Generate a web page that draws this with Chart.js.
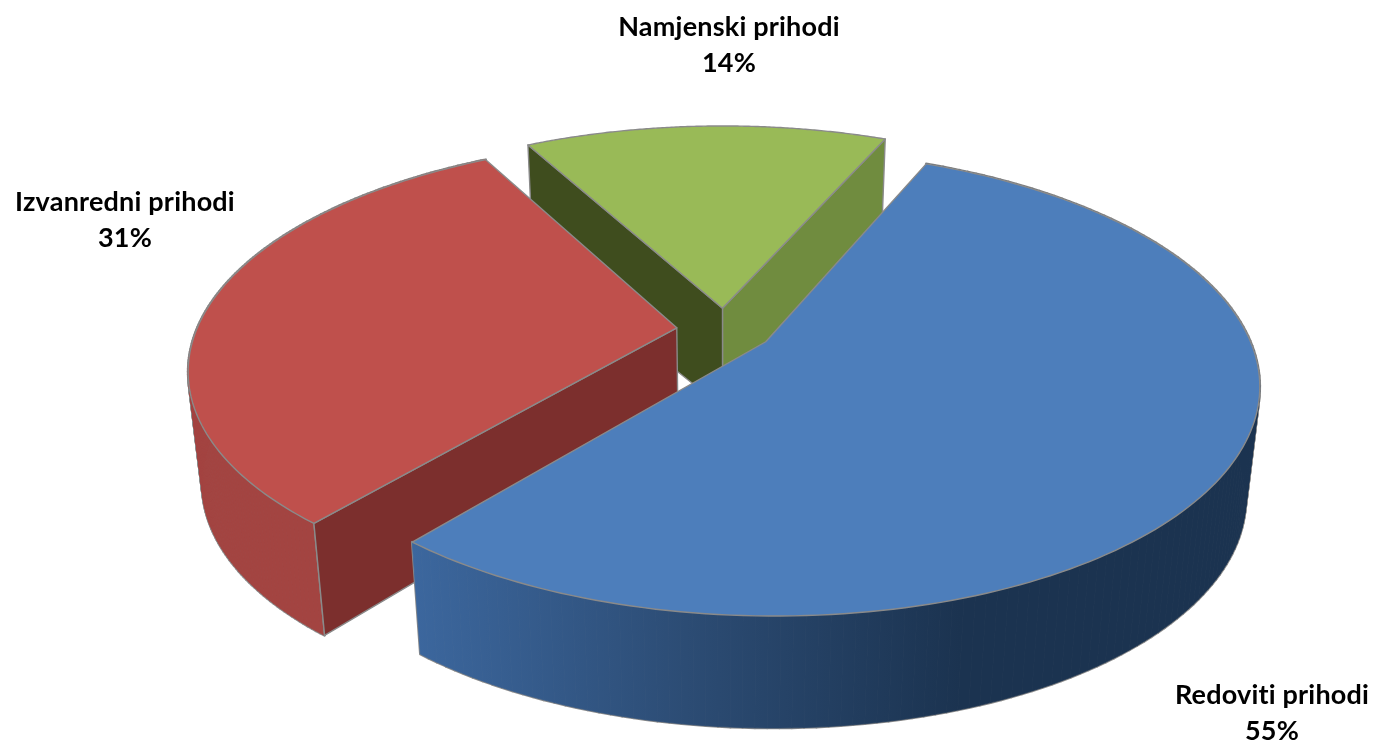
<!DOCTYPE html>
<html><head><meta charset="utf-8">
<style>html,body{margin:0;padding:0;background:#fff}canvas{display:block}</style>
<script src="https://cdn.jsdelivr.net/npm/chart.js@4/dist/chart.umd.min.js"></script>
</head><body>
<canvas id="c" width="1378" height="745"></canvas>
<script>
const categories = ['Redoviti prihodi', 'Izvanredni prihodi', 'Namjenski prihodi'];
const shares = [54.5, 31, 14.4];
const topColors = ['#4d7ebb', '#bf504c', '#99ba57'];

const TILT = {sx: 1.46, sy: 0.673, k: 0.176, explode: 0.1, shift: 0.026, depthIn: 99, depthRim: 13};
const LABEL_POS = [[1272, 695], [125, 202], [729, 27]];
const LINE_GAP = 36;
const EDGE = '#8a8a8a';

const pie3d = {
  id: 'pie3d',
  beforeDatasetsDraw(chart) {
    const ctx = chart.ctx, arcs = chart.getDatasetMeta(0).data;
    const order = [2, 1, 0];
    const mapper = arc => {
      const R = arc.outerRadius, mid = (arc.startAngle + arc.endAngle) / 2;
      const du = TILT.explode * Math.cos(mid), dv = TILT.explode * Math.sin(mid);
      const top = (r, th) => {
        const u = r * Math.cos(th) + du, v = r * Math.sin(th) + dv, w = 1 - TILT.k * v;
        return [arc.x + TILT.sx * R * u / w, arc.y + TILT.sy * R * v / w];
      };
      const bot = (r, th) => {
        const p = top(r, th);
        return [p[0] - TILT.shift * (p[0] - arc.x), p[1] + TILT.depthIn + TILT.depthRim * r];
      };
      return {top, bot};
    };
    const trace = pts => {
      ctx.beginPath();
      pts.forEach((p, i) => i ? ctx.lineTo(p[0], p[1]) : ctx.moveTo(p[0], p[1]));
      ctx.closePath();
    };
    const poly = (pts, fill) => {
      trace(pts);
      ctx.fillStyle = fill; ctx.fill();
      ctx.strokeStyle = EDGE; ctx.lineWidth = 1.4; ctx.lineJoin = 'round'; ctx.stroke();
    };
    const rim = (fn, a, b) => {
      const out = [], n = 160;
      for (let i = 0; i <= n; i++) out.push(fn(1, a + (b - a) * i / n));
      return out;
    };
    const wall = (m, th, fill) => poly([m.top(0, th), m.top(1, th), m.bot(1, th), m.bot(0, th)], fill);
    const outer = (m, a, b, fill) => {
      const t = rim(m.top, a, b), d = rim(m.bot, a, b), quads = [];
      for (let i = 0; i < t.length - 1; i++) quads.push([t[i], t[i + 1], d[i + 1], d[i]]);
      ctx.lineJoin = 'round';
      ctx.strokeStyle = EDGE; ctx.lineWidth = 2.6;
      quads.forEach(q => { trace(q); ctx.stroke(); });
      ctx.fillStyle = fill; ctx.strokeStyle = fill; ctx.lineWidth = 0.8;
      quads.forEach(q => { trace(q); ctx.stroke(); ctx.fill(); });
      ctx.strokeStyle = EDGE; ctx.lineWidth = 1.4;
      ctx.beginPath(); ctx.moveTo(t[0][0], t[0][1]); ctx.lineTo(d[0][0], d[0][1]); ctx.stroke();
    };

    order.forEach(i => {
      const arc = arcs[i], m = mapper(arc), a = arc.startAngle, b = arc.endAngle;
      if (i === 2) {
        wall(m, b, '#708c3f');
        wall(m, a, '#3f4d1e');
      } else if (i === 1) {
        outer(m, a, b, '#a34441');
        wall(m, a, '#7c2f2d');
      } else {
        const g = ctx.createLinearGradient(413, 0, 960, 0);
        g.addColorStop(0, '#3c679e');
        g.addColorStop(0.5, '#2c4c74');
        g.addColorStop(1, '#1b3350');
        outer(m, a, b, g);
      }
      poly([m.top(0, a)].concat(rim(m.top, a, b)), topColors[i]);
    });

    ctx.fillStyle = '#000';
    ctx.font = 'bold 27px Lato, "Open Sans", sans-serif';
    ctx.letterSpacing = '0.2px';
    ctx.textAlign = 'center'; ctx.textBaseline = 'middle';
    const total = shares.reduce((s, v) => s + v, 0);
    categories.forEach((c, i) => {
      ctx.fillText(c, LABEL_POS[i][0], LABEL_POS[i][1]);
      ctx.fillText(Math.round(shares[i] / total * 100) + '%', LABEL_POS[i][0], LABEL_POS[i][1] + LINE_GAP);
    });
    return false;
  }
};

new Chart(document.getElementById('c'), {
  type: 'pie',
  data: {labels: categories, datasets: [{data: shares, backgroundColor: topColors, borderColor: EDGE}]},
  options: {
    responsive: false, animation: false, rotation: 23.5,
    layout: {padding: {left: 71, right: 0, top: 0, bottom: 85}},
    plugins: {legend: {display: false}, tooltip: {enabled: false}}
  },
  plugins: [pie3d]
});
</script>
</body></html>
